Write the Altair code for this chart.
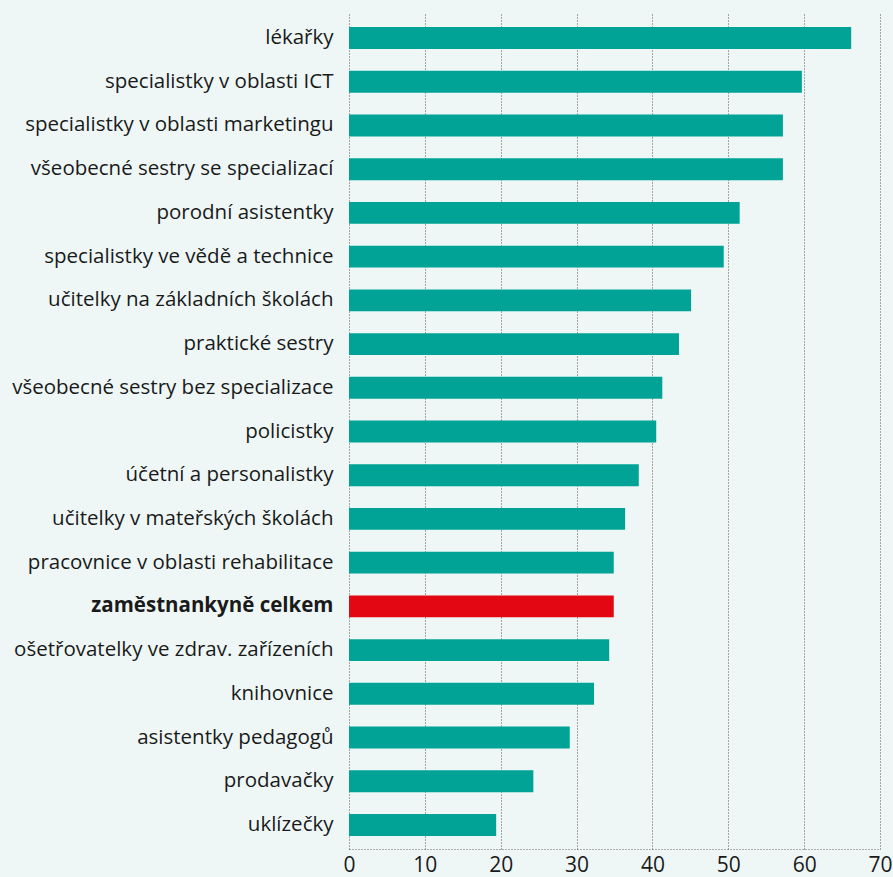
import altair as alt
import pandas as pd

categories = [
    "lékařky",
    "specialistky v oblasti ICT",
    "specialistky v oblasti marketingu",
    "všeobecné sestry se specializací",
    "porodní asistentky",
    "specialistky ve vědě a technice",
    "učitelky na základních školách",
    "praktické sestry",
    "všeobecné sestry bez specializace",
    "policistky",
    "účetní a personalistky",
    "učitelky v mateřských školách",
    "pracovnice v oblasti rehabilitace",
    "zaměstnankyně celkem",
    "ošetřovatelky ve zdrav. zařízeních",
    "knihovnice",
    "asistentky pedagogů",
    "prodavačky",
    "uklízečky",
]
values = [66.2, 59.7, 57.2, 57.2, 51.5, 49.4, 45.1, 43.5, 41.3, 40.5,
          38.2, 36.4, 34.9, 34.9, 34.3, 32.3, 29.1, 24.3, 19.4]
highlight = "zaměstnankyně celkem"

df = pd.DataFrame({"kat": categories, "val": values})
df["grp"] = ["total" if c == highlight else "other" for c in categories]

chart = alt.Chart(df).mark_bar().encode(
    y=alt.Y("kat:N", sort=categories,
            scale=alt.Scale(paddingInner=0.5, paddingOuter=0.3),
            axis=alt.Axis(title=None, ticks=False, domain=False,
                          labelFontSize=20.5, labelColor="#1a1a1a",
                          labelFont="Open Sans", labelPadding=16,
                          labelLimit=400,
                          labelFontWeight=alt.condition(
                              f"datum.value == '{highlight}'",
                              alt.value("bold"), alt.value("normal")))),
    x=alt.X("val:Q", scale=alt.Scale(domain=[0, 70]),
            axis=alt.Axis(title=None, values=[0, 10, 20, 30, 40, 50, 60, 70],
                          ticks=False, domain=True, domainDash=[1, 2],
                          domainColor="#666666", domainWidth=1,
                          grid=True,
                          gridColor="#555555", gridDash=[1, 2], gridWidth=1,
                          labelFontSize=21, labelColor="#1a1a1a",
                          labelFont="Open Sans", labelPadding=5,
                          labelFlush=False)),
    color=alt.Color("grp:N", scale=alt.Scale(domain=["other", "total"],
                                            range=["#00a396", "#e30613"]),
                    legend=None),
).properties(
    width=531, height=835,
    background="#eef7f6",
    padding={"left": 349, "top": 14, "right": 13, "bottom": 28},
    autosize=alt.AutoSizeParams(type="none"),
).configure_view(stroke=None)

chart.save("out.html", embed_options={"renderer": "svg", "actions": False})
